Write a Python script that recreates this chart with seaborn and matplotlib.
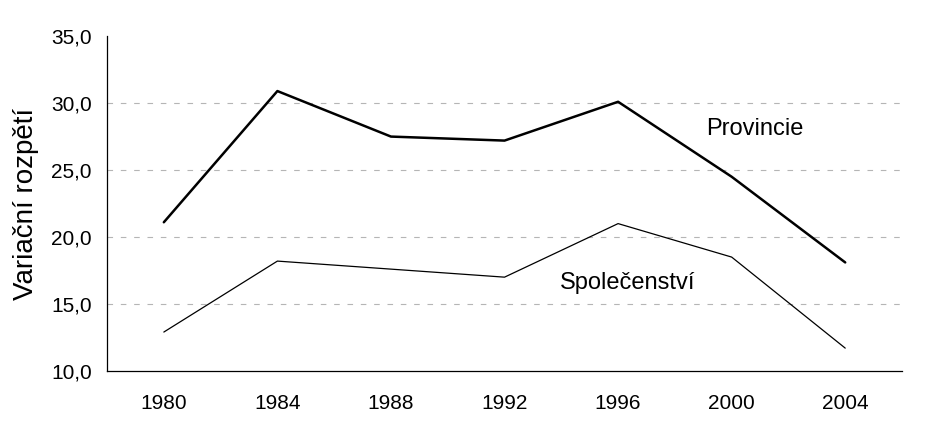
import matplotlib
matplotlib.use("Agg")
import matplotlib.pyplot as plt
import seaborn as sns
import pandas as pd
import numpy as np
from matplotlib.ticker import FixedLocator, FuncFormatter

years = ["1980", "1984", "1988", "1992", "1996", "2000", "2004"]
provincie = [21.1, 30.9, 27.5, 27.2, 30.1, 24.5, 18.1]
spolecenstvi = [12.9, 18.2, 17.6, 17.0, 21.0, 18.5, 11.7]
yticks = [10, 15, 20, 25, 30, 35]

sns.set_style("white")
plt.rcParams['font.family'] = ['Liberation Sans', 'DejaVu Sans']
plt.rcParams['text.color'] = 'black'
plt.rcParams['axes.labelcolor'] = 'black'
plt.rcParams['xtick.color'] = 'black'
plt.rcParams['ytick.color'] = 'black'

df = pd.DataFrame({
    "pos": list(range(len(years))) * 2,
    "value": provincie + spolecenstvi,
    "series": ["Provincie"] * len(years) + ["Společenství"] * len(years),
})

fig = plt.figure(figsize=(9.39, 4.41), dpi=100)
ax = fig.add_axes([0.114, 0.159, 0.8466, 0.759])

sns.lineplot(data=df[df.series == "Provincie"], x="pos", y="value", ax=ax,
             color="black", linewidth=1.8, legend=False)
sns.lineplot(data=df[df.series == "Společenství"], x="pos", y="value", ax=ax,
             color="black", linewidth=0.9, legend=False)

ax.set_xlim(-0.5, len(years) - 0.5)
ax.set_ylim(10, 35)

# faint dashed gridlines
for v in [15, 20, 25, 30]:
    ax.axhline(v, color="#b5b5b5", linewidth=0.8, linestyle=(0, (5, 7)), zorder=0)

# category axis: ticks at boundaries, labels at centres
ax.xaxis.set_major_locator(FixedLocator(np.arange(-0.5, len(years), 1.0)))
ax.xaxis.set_major_formatter(FuncFormatter(lambda v, p: ""))
ax.set_xticks(np.arange(len(years)), labels=years, minor=True)
ax.tick_params(axis="x", which="major", direction="out", length=4, width=0.8, color="black")
ax.tick_params(axis="x", which="minor", length=0, pad=17, labelsize=15, labelcolor="black")

ax.set_yticks(yticks)
ax.set_yticklabels([f"{v:.1f}".replace(".", ",") for v in yticks])
ax.tick_params(axis="y", which="major", direction="out", length=4, width=0.8,
               color="black", labelsize=15, pad=7, labelcolor="black")

for s in ["top", "right"]:
    ax.spines[s].set_visible(False)
for s in ["left", "bottom"]:
    ax.spines[s].set_color("black")
    ax.spines[s].set_linewidth(0.9)

ax.set_xlabel("")
ax.set_ylabel("Variační rozpětí", fontsize=20, labelpad=9, color="black")

ax.text(5.2, 27.6, "Provincie", fontsize=17, ha="center", va="baseline", color="black")
ax.text(4.08, 16.1, "Společenství", fontsize=17, ha="center", va="baseline", color="black")

fig.savefig("out.png", dpi=100)
